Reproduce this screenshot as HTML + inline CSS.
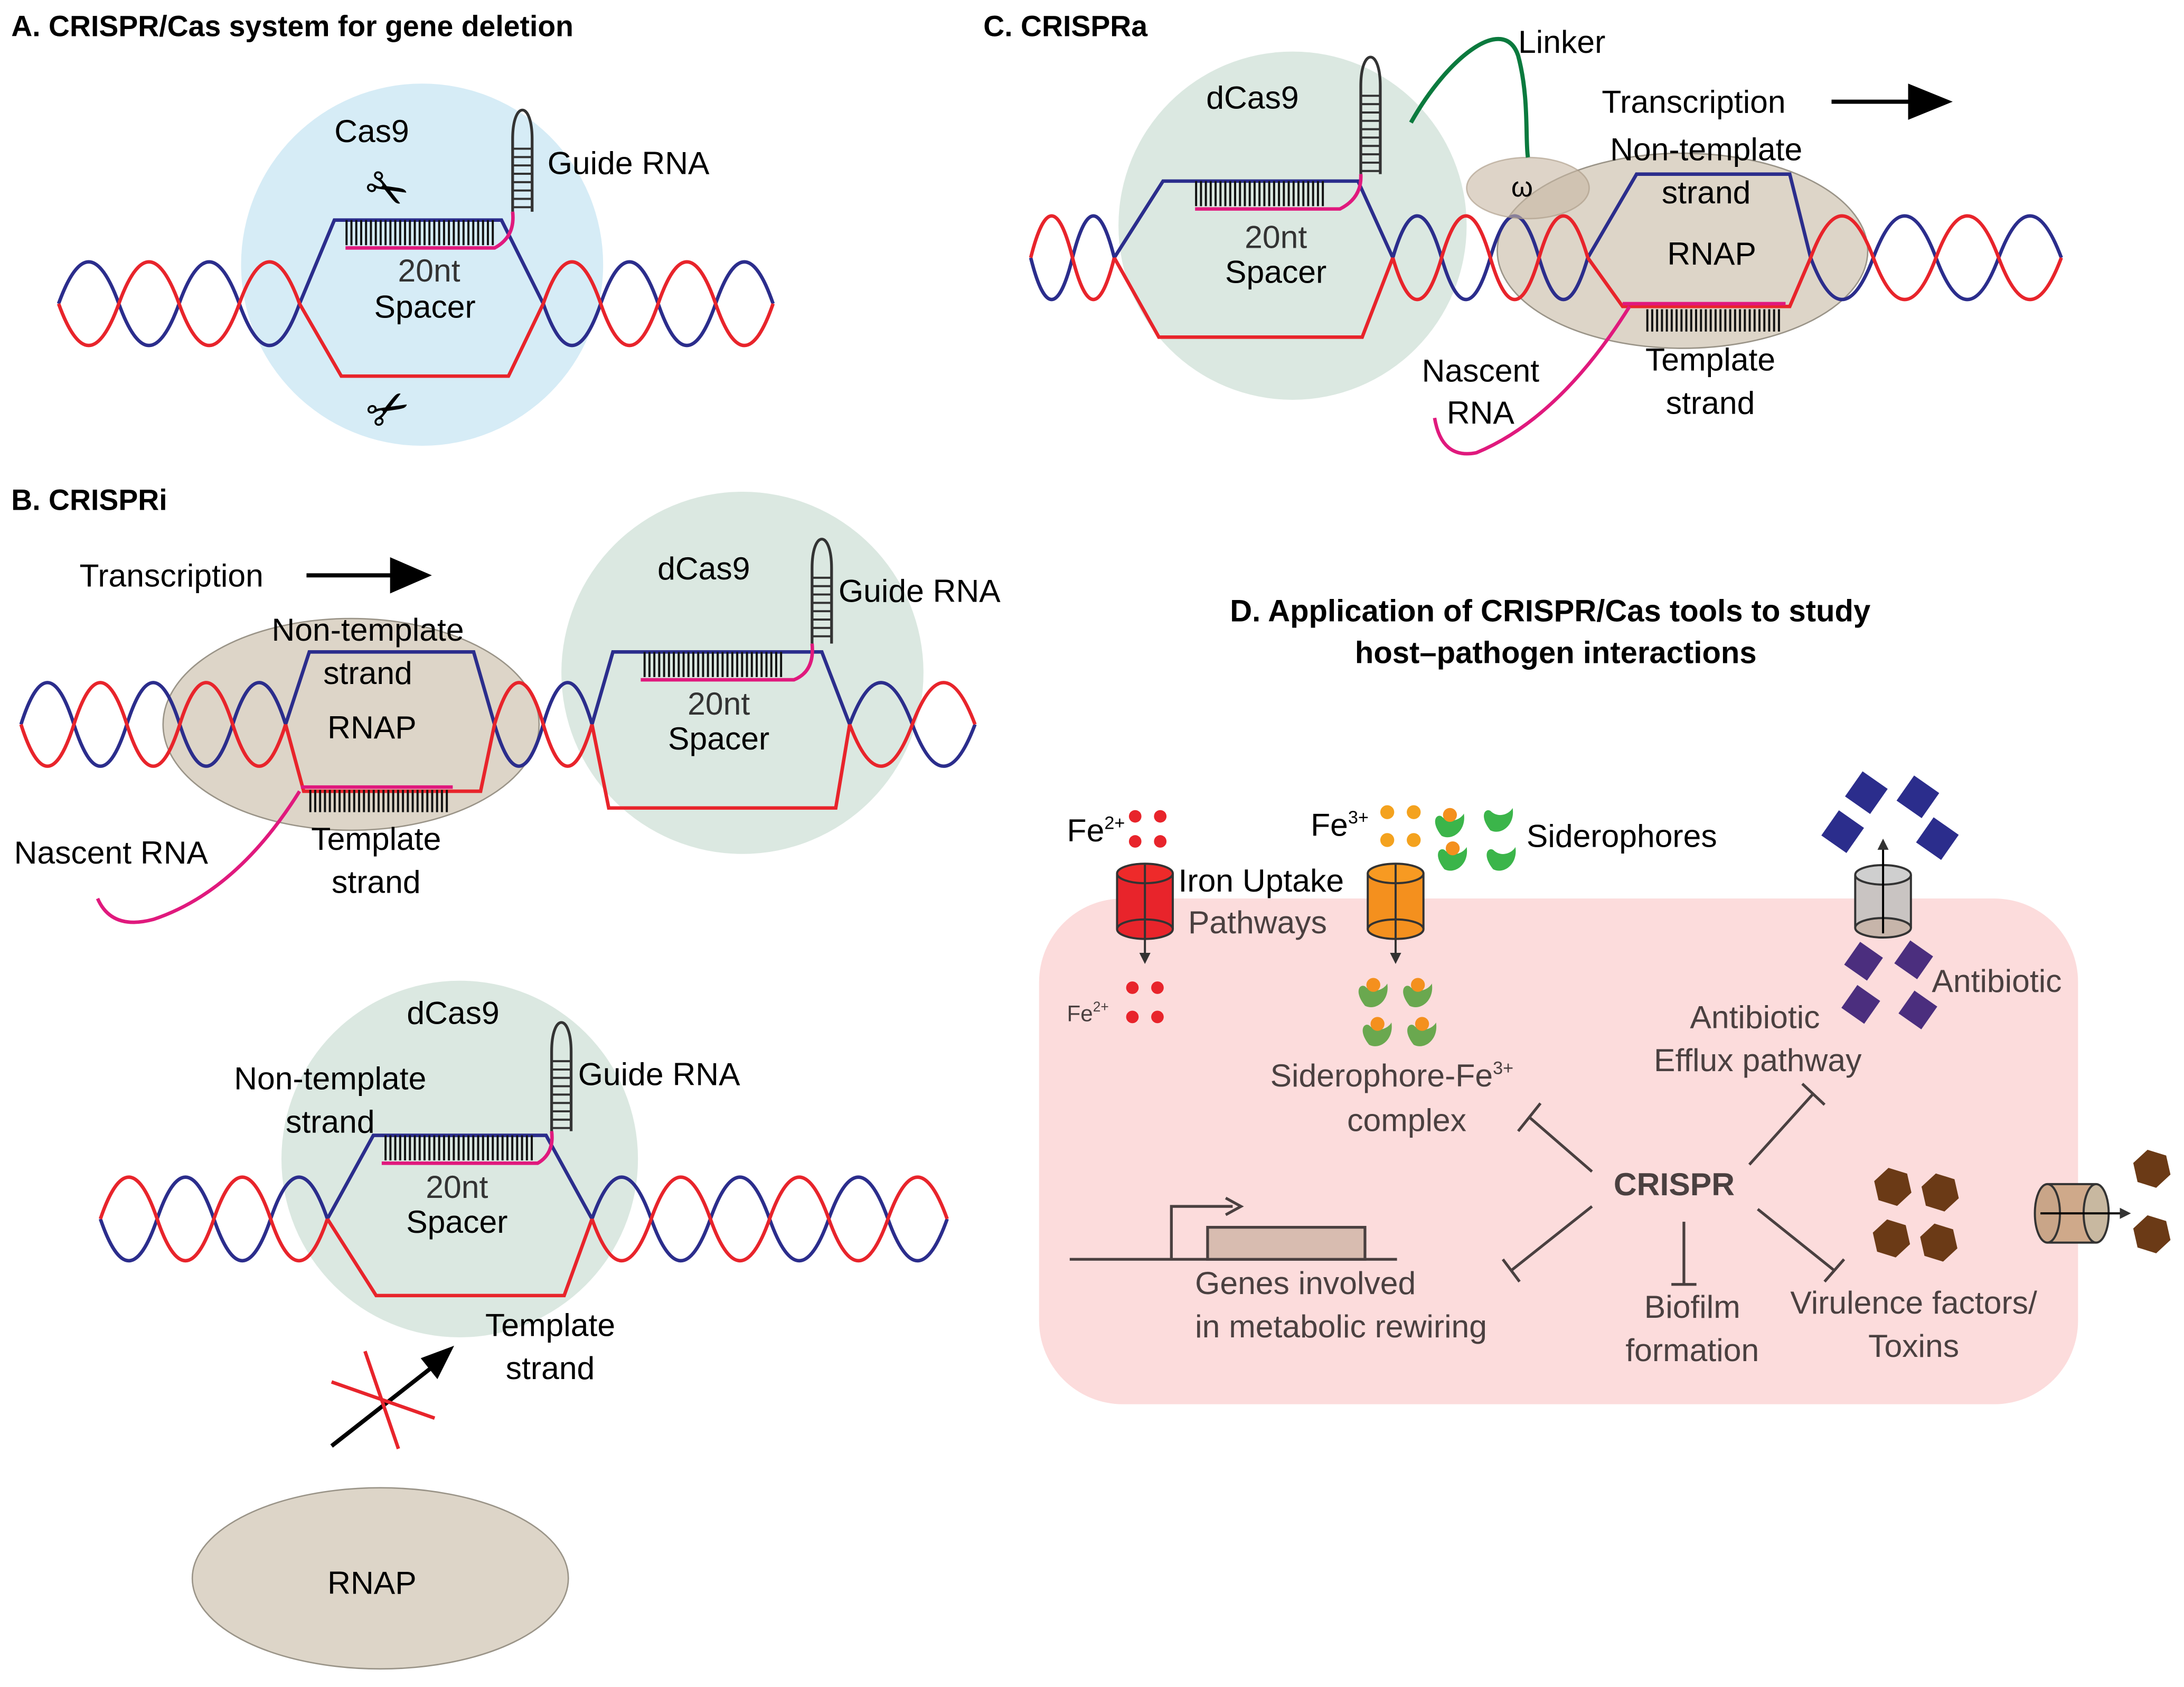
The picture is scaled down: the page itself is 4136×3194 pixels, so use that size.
<!DOCTYPE html>
<html><head><meta charset="utf-8">
<style>html,body{margin:0;padding:0;background:#fff}svg{display:block}text{font-family:"Liberation Sans",sans-serif}</style>
</head><body>
<svg xmlns="http://www.w3.org/2000/svg" width="4136" height="3194" viewBox="0 0 1568 1211">
<defs>
<marker id="ah" markerWidth="8" markerHeight="8" refX="6" refY="4" orient="auto" markerUnits="userSpaceOnUse"><path d="M0,0 L8,4 L0,8 z" fill="#333"/></marker>
<path id="sd" d="M0,0 c-8,-10 -4,-16 0,-14 c6,6 14,2 16,-2 c2,12 -8,20 -16,16z"/>
<polygon id="hx" points="13.37,4.14 3.10,13.65 -10.27,9.51 -13.37,-4.14 -3.10,-13.65 10.27,-9.51"/>
</defs>
<rect width="1568" height="1211" fill="#fff"/>
<!-- backgrounds -->
<circle cx="303" cy="190" r="130" fill="#d6ecf6"/>
<ellipse cx="252" cy="520" rx="135" ry="76" fill="#ddd5c8" stroke="#9a9488"/>
<circle cx="533" cy="483" r="130" fill="#dbe8e1"/>
<circle cx="330" cy="832" r="128" fill="#dbe8e1"/>
<ellipse cx="273" cy="1133" rx="135" ry="65" fill="#ddd5c8" stroke="#9a9488"/>
<circle cx="928" cy="162" r="125" fill="#dbe8e1"/>
<ellipse cx="1208" cy="180" rx="133" ry="70" fill="#ddd5c8" stroke="#9a9488"/>
<rect x="746" y="645" width="746" height="363" rx="60" fill="#fcdcdc"/>

<!-- helices -->
<g fill="none" stroke-width="2.5">
<g stroke="#2b2d8c">
<path d="M42,218 q21.6,-60 43.25,0 t43.25,0 t43.25,0 t43.25,0"/>
<path d="M390,218 q20.6,60 41.25,0 t41.25,0 t41.25,0 t41.25,0"/>
<path d="M215,218 L240,158 H360 L390,218"/>
<path d="M15,520 q19,-60 38,0 t38,0 t38,0 t38,0 t38,0"/>
<path d="M355,520 q17.5,60 35,0 t35,0"/>
<path d="M610,520 q22.5,-60 45,0 t45,0"/>
<path d="M205,520 L222,468 H340 L355,520"/>
<path d="M425,520 L440,468 H590 L610,520"/>
<path d="M72,875 q20.4,60 40.75,0 t40.75,0 t40.75,0 t40.75,0"/>
<path d="M425,875 q21.25,-60 42.5,0 t42.5,0 t42.5,0 t42.5,0 t42.5,0 t42.5,0"/>
<path d="M235,875 L268,815 H392 L425,875"/>
<path d="M740,185 q15,60 30,0 t30,0"/>
<path d="M1000,185 q17.5,-60 35,0 t35,0 t35,0 t35,0"/>
<path d="M1300,185 q22.5,60 45,0 t45,0 t45,0 t45,0"/>
<path d="M800,185 L835,130 H975 L1000,185"/>
<path d="M1140,185 L1175,125 H1285 L1300,185"/>
</g>
<g stroke="#e8242b">
<path d="M42,218 q21.6,60 43.25,0 t43.25,0 t43.25,0 t43.25,0"/>
<path d="M390,218 q20.6,-60 41.25,0 t41.25,0 t41.25,0 t41.25,0"/>
<path d="M215,218 L245,270 H365 L390,218"/>
<path d="M15,520 q19,60 38,0 t38,0 t38,0 t38,0 t38,0"/>
<path d="M355,520 q17.5,-60 35,0 t35,0"/>
<path d="M610,520 q22.5,60 45,0 t45,0"/>
<path d="M205,520 L218,568 H345 L355,520"/>
<path d="M425,520 L437,580 H600 L610,520"/>
<path d="M72,875 q20.4,-60 40.75,0 t40.75,0 t40.75,0 t40.75,0"/>
<path d="M425,875 q21.25,60 42.5,0 t42.5,0 t42.5,0 t42.5,0 t42.5,0 t42.5,0"/>
<path d="M235,875 L270,930 H405 L425,875"/>
<path d="M740,185 q15,-60 30,0 t30,0"/>
<path d="M1000,185 q17.5,60 35,0 t35,0 t35,0 t35,0"/>
<path d="M1300,185 q22.5,-60 45,0 t45,0 t45,0 t45,0"/>
<path d="M800,185 L832,242 H978 L1000,185"/>
<path d="M1140,185 L1165,220 H1285 L1300,185"/>
</g>
</g>
<!-- ladders -->
<g stroke="#111" stroke-dasharray="1.5 2" fill="none">
<path d="M248,167 H355" stroke-width="18"/>
<path d="M222,575 H322" stroke-width="16"/>
<path d="M462,477 H563" stroke-width="18"/>
<path d="M276,824 H384" stroke-width="18"/>
<path d="M858,139 H952" stroke-width="18"/>
<path d="M1182,230 H1278" stroke-width="16"/>
</g>
<!-- guide hairpins -->
<g fill="none" stroke="#333" stroke-width="2">
<path d="M368,152 V100 C368,72 382,72 382,100 V152"/>
<path d="M375,106 V152" stroke-width="14" stroke-dasharray="1.5 4.5"/>
<path d="M583,462 V408 C583,380 597,380 597,408 V462"/>
<path d="M590,414 V462" stroke-width="14" stroke-dasharray="1.5 4.5"/>
<path d="M396,812 V755 C396,727 410,727 410,755 V812"/>
<path d="M403,761 V812" stroke-width="14" stroke-dasharray="1.5 4.5"/>
<path d="M977,125 V62 C977,34 991,34 991,62 V125"/>
<path d="M984,68 V125" stroke-width="14" stroke-dasharray="1.5 4.5"/>
</g>
<!-- magenta RNA -->
<g fill="none" stroke="#e0197d" stroke-width="2.5">
<path d="M248,178 H355 Q370,170 368,152"/>
<path d="M216,565 H325"/>
<path d="M215,568 Q170,640 110,660 Q80,668 70,645"/>
<path d="M460,488 H570 Q585,482 583,462"/>
<path d="M274,835 H386 Q398,828 396,812"/>
<path d="M858,150 H962 Q978,142 977,125"/>
<path d="M1165,218 H1282"/>
<path d="M1170,220 Q1120,300 1060,325 Q1035,330 1030,300"/>
</g>
<ellipse cx="1097" cy="135" rx="44" ry="22" fill="#c8b8a4" fill-opacity="0.6" stroke="#a89884" stroke-opacity="0.6"/>
<text x="1085" y="141" font-family="Liberation Serif" font-size="20">ω</text>
<path d="M1013,88 C1040,40 1080,10 1090,40 C1098,70 1095,100 1097,113" fill="none" stroke="#0b7a3e" stroke-width="3"/>

<!-- titles -->
<g font-weight="bold" font-size="21">
<text x="8" y="26">A. CRISPR/Cas system for gene deletion</text>
<text x="8" y="366">B. CRISPRi</text>
<text x="706" y="26">C. CRISPRa</text>
<text x="1113" y="446" text-anchor="middle" font-size="22">D. Application of CRISPR/Cas tools to study</text>
<text x="1117" y="476" text-anchor="middle" font-size="22">host–pathogen interactions</text>
</g>
<g font-size="23">
<text x="240" y="102">Cas9</text>
<text x="393" y="125">Guide RNA</text>
<text x="308" y="202" text-anchor="middle" fill="#333">20nt</text>
<text x="305" y="228" text-anchor="middle">Spacer</text>
<text x="57" y="421">Transcription</text>
<text x="264" y="460" text-anchor="middle">Non-template</text>
<text x="264" y="491" text-anchor="middle">strand</text>
<text x="267" y="530" text-anchor="middle">RNAP</text>
<text x="270" y="610" text-anchor="middle">Template</text>
<text x="270" y="641" text-anchor="middle">strand</text>
<text x="10" y="620">Nascent RNA</text>
<text x="472" y="416">dCas9</text>
<text x="602" y="432">Guide RNA</text>
<text x="516" y="513" text-anchor="middle" fill="#333">20nt</text>
<text x="516" y="538" text-anchor="middle">Spacer</text>
<text x="292" y="735">dCas9</text>
<text x="237" y="782" text-anchor="middle">Non-template</text>
<text x="237" y="813" text-anchor="middle">strand</text>
<text x="415" y="779">Guide RNA</text>
<text x="328" y="860" text-anchor="middle" fill="#333">20nt</text>
<text x="328" y="885" text-anchor="middle">Spacer</text>
<text x="395" y="959" text-anchor="middle">Template</text>
<text x="395" y="990" text-anchor="middle">strand</text>
<text x="267" y="1144" text-anchor="middle">RNAP</text>
<text x="1090" y="38">Linker</text>
<text x="1150" y="81">Transcription</text>
<text x="866" y="78">dCas9</text>
<text x="1225" y="115" text-anchor="middle">Non-template</text>
<text x="1225" y="146" text-anchor="middle">strand</text>
<text x="916" y="178" text-anchor="middle" fill="#333">20nt</text>
<text x="916" y="203" text-anchor="middle">Spacer</text>
<text x="1229" y="190" text-anchor="middle">RNAP</text>
<text x="1228" y="266" text-anchor="middle">Template</text>
<text x="1228" y="297" text-anchor="middle">strand</text>
<text x="1063" y="274" text-anchor="middle">Nascent</text>
<text x="1063" y="304" text-anchor="middle">RNA</text>
<text x="766" y="604">Fe<tspan font-size="13" dy="-9">2+</tspan></text>
<text x="941" y="600">Fe<tspan font-size="13" dy="-9">3+</tspan></text>
<text x="1096" y="608">Siderophores</text>
<text x="846" y="640">Iron Uptake</text>
<text x="853" y="670" fill="#4a4040">Pathways</text>
<text x="766" y="733" font-size="16" fill="#4a4040">Fe<tspan font-size="10" dy="-7">2+</tspan></text>
<text x="912" y="780" fill="#4a4040">Siderophore-Fe<tspan font-size="13" dy="-9">3+</tspan></text>
<text x="1010" y="812" text-anchor="middle" fill="#4a4040">complex</text>
<text x="1260" y="738" text-anchor="middle" fill="#4a4040">Antibiotic</text>
<text x="1262" y="769" text-anchor="middle" fill="#4a4040">Efflux pathway</text>
<text x="1387" y="712" fill="#4a4040">Antibiotic</text>
<text x="1202" y="858" text-anchor="middle" font-weight="bold" fill="#4a4040">CRISPR</text>
<text x="858" y="929" fill="#4a4040">Genes involved</text>
<text x="858" y="960" fill="#4a4040">in metabolic rewiring</text>
<text x="1215" y="946" text-anchor="middle" fill="#4a4040">Biofilm</text>
<text x="1215" y="977" text-anchor="middle" fill="#4a4040">formation</text>
<text x="1374" y="943" text-anchor="middle" fill="#4a4040">Virulence factors/</text>
<text x="1374" y="974" text-anchor="middle" fill="#4a4040">Toxins</text>
</g>
<!-- transcription arrows -->
<path d="M220,413 H290" stroke="#000" stroke-width="3"/><path d="M280,400 L310,413 L280,426 z"/>
<path d="M1315,73 H1380" stroke="#000" stroke-width="3"/><path d="M1370,60 L1402,73 L1370,86 z"/>
<path d="M238,1038 L312,980" stroke="#000" stroke-width="3"/><path d="M302,975 L326,966 L314,990 z"/>
<path d="M238,992 L312,1018 M262,970 L286,1040" stroke="#e8242b" stroke-width="2.5"/>
<text x="262" y="150" font-size="36" transform="rotate(30 280 138)">✂</text>
<text x="262" y="305" font-size="36" transform="rotate(-30 280 290)">✂</text>
<!-- D inhibitor lines -->
<g stroke="#4a4040" stroke-width="2" fill="none">
<path d="M1143,841 L1098,802 M1090,812 L1106,792"/>
<path d="M1256,836 L1302,785 M1294,778 L1310,793"/>
<path d="M1143,866 L1085,912 M1079,904 L1091,920"/>
<path d="M1209,877 V922 M1200,922 H1218"/>
<path d="M1262,868 L1317,912 M1310,920 L1324,904"/>
<path d="M768,904 H1003"/>
<rect x="867" y="881" width="113" height="23" fill="#d8bcb0"/>
<path d="M841,904 V866 H885"/><path d="M880,860 L891,866 L880,872"/>
</g>
<!-- cylinders -->
<g stroke="#333" stroke-width="1.5">
<rect x="802" y="627" width="40" height="40" fill="#e8242b" stroke="none"/>
<path d="M802,627 V667 M842,627 V667"/>
<ellipse cx="822" cy="667" rx="20" ry="7" fill="#e8242b"/>
<ellipse cx="822" cy="627" rx="20" ry="7" fill="#ee2a2a"/>
<rect x="982" y="627" width="40" height="40" fill="#f4901e" stroke="none"/>
<path d="M982,627 V667 M1022,627 V667"/>
<ellipse cx="1002" cy="667" rx="20" ry="7" fill="#f4901e"/>
<ellipse cx="1002" cy="627" rx="20" ry="7" fill="#f79a22"/>
<rect x="1332" y="628" width="40" height="38" fill="#c9c4c2" stroke="none"/>
<path d="M1332,628 V666 M1372,628 V666"/>
<ellipse cx="1352" cy="666" rx="20" ry="7" fill="#c7b5aa"/>
<ellipse cx="1352" cy="628" rx="20" ry="7" fill="#cfcfcf"/>
<rect x="1470" y="850" width="35" height="42" fill="#cfa98a" stroke="none"/>
<path d="M1470,850 H1505 M1470,892 H1505"/>
<ellipse cx="1470" cy="871" rx="9" ry="21" fill="#c9a588"/>
<ellipse cx="1505" cy="871" rx="9" ry="21" fill="#c8b8a0"/>
</g>
<path d="M822,620 V690" stroke="#333" stroke-width="1.5" marker-end="url(#ah)"/>
<path d="M1002,620 V690" stroke="#333" stroke-width="1.5" marker-end="url(#ah)"/>
<path d="M1352,670 V604" stroke="#000" stroke-width="1.5" marker-end="url(#ah)"/>
<path d="M1465,871 H1528" stroke="#000" stroke-width="1.5" marker-end="url(#ah)"/>
<g fill="#e8242b">
<circle cx="815" cy="586" r="4.5"/><circle cx="833" cy="586" r="4.5"/><circle cx="815" cy="604" r="4.5"/><circle cx="833" cy="604" r="4.5"/>
<circle cx="813" cy="709" r="4.5"/><circle cx="831" cy="709" r="4.5"/><circle cx="813" cy="730" r="4.5"/><circle cx="831" cy="730" r="4.5"/>
</g>
<g fill="#f4a21e">
<circle cx="996" cy="583" r="5"/><circle cx="1015" cy="583" r="5"/><circle cx="996" cy="603" r="5"/><circle cx="1015" cy="603" r="5"/>
</g>
<!-- siderophores -->
<g fill="#3bb54a">
<use href="#sd" x="1035" y="600"/><use href="#sd" x="1070" y="596"/><use href="#sd" x="1037" y="624"/><use href="#sd" x="1072" y="624"/>
</g>
<g fill="#f4901e"><circle cx="1041" cy="585" r="5"/><circle cx="1043" cy="609" r="5"/></g>
<g fill="#6aa84f">
<use href="#sd" x="980" y="722"/><use href="#sd" x="1012" y="722"/><use href="#sd" x="983" y="750"/><use href="#sd" x="1015" y="750"/>
</g>
<g fill="#f4901e"><circle cx="986" cy="707" r="5"/><circle cx="1018" cy="707" r="5"/><circle cx="989" cy="735" r="5"/><circle cx="1021" cy="735" r="5"/></g>
<!-- antibiotics -->
<g fill="#2b2d8c">
<rect x="-11" y="-11" width="22" height="22" transform="translate(1340,569) rotate(35)"/>
<rect x="-11" y="-11" width="22" height="22" transform="translate(1377,572) rotate(35)"/>
<rect x="-11" y="-11" width="22" height="22" transform="translate(1323,597) rotate(35)"/>
<rect x="-11" y="-11" width="22" height="22" transform="translate(1391,602) rotate(35)"/>
</g>
<g fill="#4b2e7e">
<rect x="-10" y="-10" width="20" height="20" transform="translate(1338,690) rotate(35)"/>
<rect x="-10" y="-10" width="20" height="20" transform="translate(1374,689) rotate(35)"/>
<rect x="-10" y="-10" width="20" height="20" transform="translate(1336,721) rotate(35)"/>
<rect x="-10" y="-10" width="20" height="20" transform="translate(1377,725) rotate(35)"/>
</g>
<g fill="#6b3a16">
<use href="#hx" x="1359" y="852"/><use href="#hx" x="1393" y="856"/><use href="#hx" x="1358" y="889"/><use href="#hx" x="1392" y="892"/>
<use href="#hx" x="1545" y="839"/><use href="#hx" x="1545" y="886"/>
</g>
</svg>
</body></html>
